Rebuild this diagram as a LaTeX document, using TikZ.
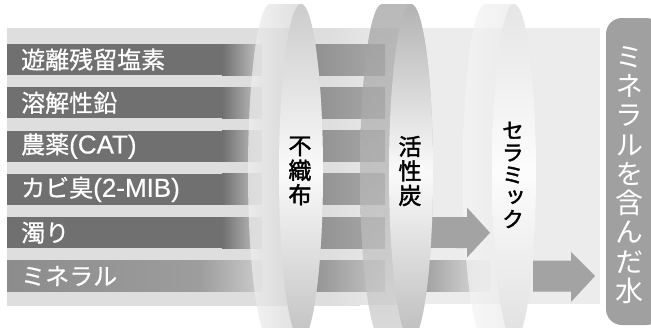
\documentclass[tikz,border=0pt]{standalone}
\usepackage{fontspec}
\setmainfont{Noto Sans CJK JP}
\newfontfamily\cjkh[FakeBold=0.6]{Noto Sans CJK JP}
\newfontfamily\latf[FakeBold=0.4]{Liberation Sans}
\newfontfamily\cjkv[RawFeature=+vert]{Noto Sans CJK JP}
\newfontfamily\cjkvb[RawFeature=+vert,FakeBold=1.8]{Noto Sans CJK JP}
\definecolor{barc}{RGB}{112,112,112}
\definecolor{minc}{RGB}{140,140,140}
\definecolor{panelc}{RGB}{222,222,222}
\definecolor{panelr}{RGB}{236,236,236}
\definecolor{arrc}{RGB}{163,163,163}
\definecolor{labc}{RGB}{160,160,160}
\begin{document}
\begin{tikzpicture}[x=1pt,y=-1pt,
  lbl/.style={text=white,font=\cjkh\fontsize{24}{26}\selectfont,anchor=west,inner sep=0pt},
  vtxt/.style={text=black,align=center,inner sep=0pt},
  rimtop/.style={fill opacity=0.72}]
\useasboundingbox (0,0) rectangle (651,327);
\clip (0,0) rectangle (651,327);
% panel
\fill[panelc] (7,28) rectangle (360,306);
\fill[panelr] (360,28) rectangle (600,304);
\shade[left color=panelc,right color=panelr] (330,28) rectangle (400,304);
% bars 1-5 left part
\foreach \yc in {59.5,102.8,146.1,189.4,232.7}{
  \fill[barc] (7,\yc-15.5) rectangle (222,\yc+15.5);
  \shade[left color=barc,right color=black!22] (222,\yc-15.5) rectangle (262,\yc+15.5);
  \shade[left color=black!45,right color=black!34] (300,\yc-15.5) rectangle (385,\yc+15.5);
}
% mineral bar
\shade[left color=minc,right color=minc!85!white] (7,260.5) rectangle (200,291.5);
\shade[left color=minc!85!white,right color=black!20] (200,260.5) rectangle (262,291.5);
\shade[left color=black!46,right color=black!22] (300,260.5) rectangle (385,291.5);
\shade[left color=black!42,right color=black!12] (411,260.5) rectangle (490,291.5);
% disk 1
\shade[rimtop,left color=black!6,right color=black!22]
  (270,4) arc[start angle=270,end angle=90,x radius=22,y radius=168] -- (301,340)
  arc[start angle=90,end angle=-90,x radius=22,y radius=168] -- cycle;
\shade[top color=black!20,bottom color=black!24,middle color=black!2]
  (301,172) ellipse[x radius=22,y radius=168];
% arrow from 2nd disk (turbidity)
\fill[arrc] (420,217.2) rectangle (467,248.2);
% disk 2
\shade[rimtop,top color=black!38,bottom color=black!20]
  (382,4) arc[start angle=270,end angle=90,x radius=22,y radius=168] -- (411,340)
  arc[start angle=90,end angle=-90,x radius=22,y radius=168] -- cycle;
\shade[top color=black!30,bottom color=black!26,middle color=black!2]
  (411,172) ellipse[x radius=22,y radius=168];
% disk 3
\shade[rimtop,left color=black!4,right color=black!10]
  (485,4) arc[start angle=270,end angle=90,x radius=22,y radius=168] -- (514,340)
  arc[start angle=90,end angle=-90,x radius=22,y radius=168] -- cycle;
\fill[arrc] (455,217.2) -- (467,217.2) -- (467,207.5) -- (490,232.7) -- (467,257.5) -- (467,248.2) -- (455,248.2) -- cycle;
\shade[top color=black!10,bottom color=black!12,middle color=black!1]
  (514,172) ellipse[x radius=22,y radius=168];
% mineral arrow
\fill[arrc] (533,260.5) -- (571,260.5) -- (571,252) -- (595,276) -- (571,302) -- (571,291.5) -- (533,291.5) -- cycle;
% bar labels
\node[lbl] (t1) at (21,59.5) {遊離残留塩素};
\node[lbl] (t2) at (21,102.8) {溶解性鉛};
\node[lbl] (t3) at (21,146.1) {農薬{\latf\fontsize{26}{28}\selectfont(CAT)}};
\node[lbl] (t4) at (21,189.4) {カビ臭{\latf\fontsize{26}{28}\selectfont(2-MIB)}};
\node[lbl] (t5) at (21,232.7) {濁り};
\node[lbl] (t6) at (21,276) {ミネラル};
% filter labels
\node[vtxt,font=\cjkvb\fontsize{23}{24.5}\selectfont] (f1) at (300,171) {不\\織\\布};
\node[vtxt,font=\cjkvb\fontsize{23}{24.5}\selectfont] (f2) at (410,171) {活\\性\\炭};
\node[vtxt,font=\cjkvb\fontsize{22}{22.2}\selectfont] (f3) at (513,175) {セ\\ラ\\ミ\\ッ\\ク};
% result label
\fill[labc,rounded corners=16pt] (606,18) rectangle (662,325);
\node[vtxt,text=white,font=\cjkv\fontsize{28}{29.3}\selectfont] (res) at (629,175) {ミ\\ネ\\ラ\\ル\\を\\含\\ん\\だ\\水};
\end{tikzpicture}
\end{document}
